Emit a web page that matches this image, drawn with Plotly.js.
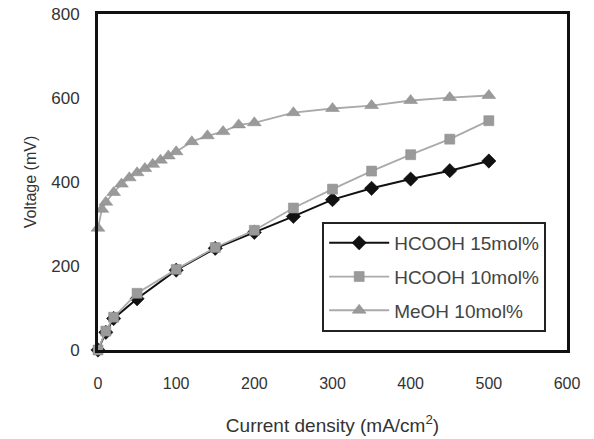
<!DOCTYPE html>
<html>
<head>
<meta charset="utf-8">
<script src="https://cdn.plot.ly/plotly-3.0.1.min.js"></script>
<style>html,body{margin:0;padding:0;background:#fff}#chart{width:594px;height:439px}</style>
</head>
<body>
<div id="chart"></div>
<script>
// Current density (mA/cm2)
const xHCOOH15 = [0, 10, 20, 50, 100, 150, 200, 250, 300, 350, 400, 450, 500];
const yHCOOH15 = [0, 42, 75, 122, 190, 242, 280, 318, 358, 385, 407, 427, 450];

const xHCOOH10 = [0, 10, 20, 50, 100, 150, 200, 250, 300, 350, 400, 450, 500];
const yHCOOH10 = [0, 45, 78, 135, 192, 244, 285, 338, 383, 426, 465, 502, 546];

const xMeOH10 = [0, 5, 10, 20, 30, 40, 50, 60, 70, 80, 90, 100, 120, 140, 160, 180, 200, 250, 300, 350, 400, 450, 500];
const yMeOH10 = [290, 335, 352, 375, 395, 410, 422, 432, 442, 452, 462, 472, 496, 510, 520, 536, 541, 565, 575, 582, 594, 601, 606];

const seriesNames = ['HCOOH 15mol%', 'HCOOH 10mol%', 'MeOH 10mol%'];
const xTicks = [0, 100, 200, 300, 400, 500, 600];
const yTicks = [0, 200, 400, 600, 800];

const font = 'Liberation Sans, Arial, sans-serif';

const traces = [
  {
    x: xHCOOH15, y: yHCOOH15, name: seriesNames[0], legendgroup: 'a', type: 'scatter', mode: 'lines+markers',
    line: {color: '#111', width: 2},
    marker: {symbol: 'diamond', size: 11, color: '#111', line: {color: '#000', width: 0.5}},
    cliponaxis: false
  },
  {
    x: xHCOOH10, y: yHCOOH10, name: seriesNames[1], legendgroup: 'b', type: 'scatter', mode: 'lines+markers',
    line: {color: '#aaa', width: 1.8},
    marker: {symbol: 'square', size: 10, color: '#9a9a9a', line: {color: '#888', width: 0.5}},
    cliponaxis: false
  },
  {
    x: xMeOH10, y: yMeOH10, name: seriesNames[2], legendgroup: 'c', type: 'scatter', mode: 'lines+markers',
    line: {color: '#aaa', width: 1.8},
    marker: {symbol: 'triangle-up', size: 12, color: '#9a9a9a', line: {color: '#888', width: 0.5}},
    cliponaxis: false
  }
];

const layout = {
  width: 594, height: 439,
  margin: {l: 98, r: 27, t: 14, b: 89},
  paper_bgcolor: '#fff', plot_bgcolor: '#fff',
  font: {family: font, color: '#333', size: 16},
  showlegend: true,
  legend: {
    x: 0.478, y: 0.381, xanchor: 'left', yanchor: 'top',
    bordercolor: '#222', borderwidth: 2, bgcolor: '#fff',
    font: {family: font, size: 19, color: '#444'},
    itemwidth: 60,
    tracegroupgap: 6
  },
  xaxis: {
    range: [0, 600], tickvals: xTicks, ticktext: xTicks.map(String),
    showgrid: false, zeroline: false,
    showline: true, linecolor: '#111', linewidth: 3, mirror: true,
    ticks: 'outside', ticklen: 17, tickcolor: 'rgba(0,0,0,0)',
    tickfont: {size: 16, color: '#333'},
    title: {text: 'Current density (mA/cm<sup>2</sup>)', font: {size: 19, color: '#333'}, standoff: 28}
  },
  yaxis: {
    range: [0, 800], tickvals: yTicks, ticktext: yTicks.map(String),
    showgrid: false, zeroline: false,
    showline: true, linecolor: '#111', linewidth: 3, mirror: true,
    ticks: 'outside', ticklen: 12, tickcolor: 'rgba(0,0,0,0)',
    tickfont: {size: 17, color: '#333'},
    title: {text: 'Voltage (mV)', font: {size: 16, color: '#333'}, standoff: 11}
  }
};

Plotly.newPlot('chart', traces, layout, {displayModeBar: false, staticPlot: true});
</script>
</body>
</html>
